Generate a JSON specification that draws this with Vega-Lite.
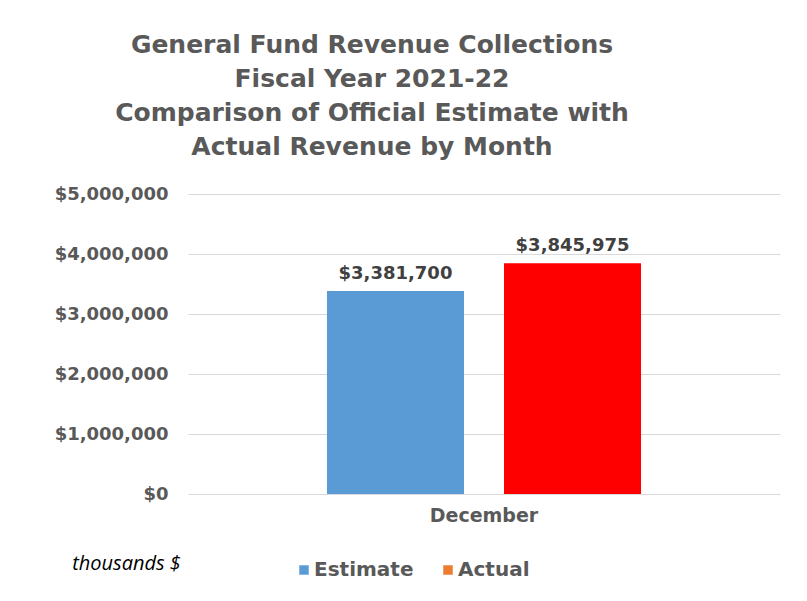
{
  "$schema": "https://vega.github.io/schema/vega-lite/v6.json",
  "width": 592,
  "height": 300,
  "autosize": "none",
  "padding": {"left": 188, "top": 194, "right": 27, "bottom": 107},
  "background": "white",
  "title": {
    "text": ["General Fund Revenue Collections", "Fiscal Year 2021-22", "Comparison of Official Estimate with", "Actual Revenue by Month"],
    "font": "DejaVu Sans",
    "fontSize": 25,
    "fontWeight": "bold",
    "color": "#595959",
    "lineHeight": 34,
    "anchor": "middle",
    "frame": "group",
    "dx": -112,
    "offset": 25
  },
  "data": {
    "values": [
      {"month": "December", "series": "Estimate", "amount": 3381700},
      {"month": "December", "series": "Actual", "amount": 3845975}
    ]
  },
  "encoding": {
    "x": {
      "field": "month",
      "type": "nominal",
      "scale": {"paddingInner": 0, "paddingOuter": 0},
      "axis": {
        "title": "thousands $",
        "titleFont": "Open Sans",
        "titleFontStyle": "italic",
        "titleFontWeight": "normal",
        "titleFontSize": 20,
        "titleColor": "#000000",
        "titleX": -62,
        "titleY": 69,
        "titleAlign": "center",
        "titleBaseline": "middle",
        "labelAngle": 0,
        "labelFont": "DejaVu Sans",
        "labelFontWeight": "bold",
        "labelFontSize": 19,
        "labelColor": "#595959",
        "labelPadding": 12,
        "domain": false,
        "ticks": false,
        "grid": false
      }
    },
    "xOffset": {
      "field": "series",
      "type": "nominal",
      "sort": ["Estimate", "Actual"],
      "scale": {"paddingInner": 0.226, "paddingOuter": 0.785}
    },
    "y": {
      "field": "amount",
      "type": "quantitative",
      "scale": {"domain": [0, 5000000], "nice": false},
      "axis": {
        "title": null,
        "values": [0, 1000000, 2000000, 3000000, 4000000, 5000000],
        "format": "$,.0f",
        "labelFont": "DejaVu Sans",
        "labelFontWeight": "bold",
        "labelFontSize": 18,
        "labelColor": "#595959",
        "labelPadding": 20,
        "domain": false,
        "ticks": false,
        "grid": true,
        "gridColor": "#D9D9D9",
        "gridWidth": 1
      }
    }
  },
  "layer": [
    {
      "mark": {"type": "bar"},
      "encoding": {
        "fill": {
          "condition": {"test": "datum.series === 'Actual'", "value": "#FF0000"},
          "value": "#5B9BD5"
        }
      }
    },
    {
      "mark": {"type": "square", "opacity": 0, "size": 1},
      "encoding": {
        "color": {
          "field": "series",
          "type": "nominal",
          "scale": {"domain": ["Estimate", "Actual"], "range": ["#5B9BD5", "#ED7D31"]},
          "legend": {
            "title": null,
            "orient": "none",
            "direction": "horizontal",
            "legendX": 106,
            "legendY": 366,
            "symbolType": "square",
            "symbolSize": 90,
            "symbolOpacity": 1,
            "symbolStrokeWidth": 0,
            "labelFont": "DejaVu Sans",
            "labelFontWeight": "bold",
            "labelFontSize": 20,
            "labelColor": "#595959",
            "labelOffset": 0,
            "columnPadding": 24
          }
        }
      }
    },
    {
      "mark": {
        "type": "text",
        "font": "DejaVu Sans",
        "fontWeight": "bold",
        "fontSize": 18,
        "color": "#404040",
        "baseline": "alphabetic"
      },
      "encoding": {
        "text": {"field": "amount", "type": "quantitative", "format": "$,.0f"},
        "yOffset": {
          "condition": {"test": "datum.series === 'Actual'", "value": -20},
          "value": -12
        }
      }
    }
  ],
  "config": {
    "view": {"stroke": null}
  }
}
